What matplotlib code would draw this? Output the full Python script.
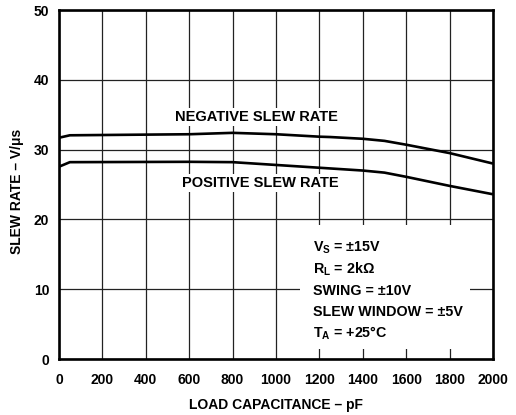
import matplotlib
matplotlib.use("Agg")
import matplotlib.pyplot as plt
from matplotlib.patches import Rectangle

plt.rcParams['font.family'] = ['Liberation Sans', 'DejaVu Sans']
plt.rcParams['font.weight'] = 'bold'
plt.rcParams['mathtext.fontset'] = 'custom'
plt.rcParams['mathtext.rm'] = 'Liberation Sans:bold'
plt.rcParams['mathtext.it'] = 'Liberation Sans:bold'
plt.rcParams['mathtext.bf'] = 'Liberation Sans:bold'

# values
load_pf = [0, 50, 600, 800, 1000, 1200, 1250, 1400, 1500, 1600, 1800, 2000]
neg_slew = [31.7, 32.05, 32.2, 32.4, 32.2, 31.85, 31.8, 31.55, 31.25, 30.7, 29.5, 28.0]
pos_slew = [27.55, 28.2, 28.25, 28.2, 27.8, 27.4, 27.3, 27.0, 26.7, 26.1, 24.8, 23.6]

x_ticks = [0, 200, 400, 600, 800, 1000, 1200, 1400, 1600, 1800, 2000]
y_ticks = [0, 10, 20, 30, 40, 50]

conditions = [
    "V$_\\mathrm{S}$ = \u00b115V",
    "R$_\\mathrm{L}$ = 2k\u03a9",
    "SWING = \u00b110V",
    "SLEW WINDOW = \u00b15V",
    "T$_\\mathrm{A}$ = +25\u00b0C",
]
cond_y = [15.37, 12.18, 9.17, 6.16, 3.01]

fig = plt.figure(figsize=(5.16, 4.15), dpi=100)
ax = fig.add_axes([59 / 516, 1 - 359 / 415, 434 / 516, 349 / 415])

ax.plot(load_pf, neg_slew, color='black', lw=1.9, zorder=3, solid_capstyle='butt')
ax.plot(load_pf, pos_slew, color='black', lw=1.9, zorder=3, solid_capstyle='butt')

ax.set_xlim(0, 2000)
ax.set_ylim(0, 50)
ax.set_xticks(x_ticks)
ax.set_yticks(y_ticks)
ax.grid(True, color='#222222', lw=0.9)
ax.tick_params(axis='x', length=0, labelsize=10, pad=10)
ax.tick_params(axis='y', length=0, labelsize=10, pad=7)
for lab in ax.get_xticklabels() + ax.get_yticklabels():
    lab.set_fontweight('bold')
for sp in ax.spines.values():
    sp.set_linewidth(1.9)

txt_box = dict(facecolor='white', edgecolor='none', pad=1.5)
ax.text(908, 34.7, "NEGATIVE SLEW RATE", ha='center', va='center',
        fontsize=10.5, fontweight='bold', bbox=txt_box, zorder=4)
ax.text(930, 25.2, "POSITIVE SLEW RATE", ha='center', va='center',
        fontsize=10.5, fontweight='bold', bbox=txt_box, zorder=4)

ax.add_patch(Rectangle((1110, 1.5), 785, 17.7, facecolor='white',
                       edgecolor='none', zorder=2))
for line, yv in zip(conditions, cond_y):
    ax.text(1170, yv, line, ha='left', va='baseline', fontsize=10.3,
            fontweight='bold', zorder=4)

ax.set_xlabel("LOAD CAPACITANCE \u2013 pF", fontsize=10, fontweight='bold', labelpad=8)
ax.set_ylabel("SLEW RATE \u2013 V/\u03bcs", fontsize=10, fontweight='bold')
ax.yaxis.set_label_coords(-35 / 434, 0.48)

fig.savefig("out.png", dpi=100)
